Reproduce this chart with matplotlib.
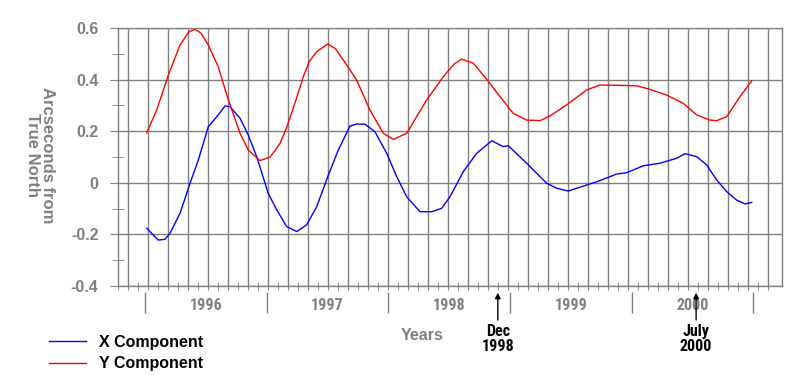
import numpy as np
import matplotlib
matplotlib.use("Agg")
import matplotlib.pyplot as plt
from matplotlib.lines import Line2D

# Values: decimal year / arcseconds
x_years = [1996.014, 1996.109, 1996.164, 1996.205, 1996.288, 1996.370, 1996.438,
           1996.520, 1996.602, 1996.658, 1996.699, 1996.781, 1996.849, 1996.918,
           1997.013, 1997.083, 1997.165, 1997.247, 1997.329, 1997.411, 1997.507,
           1997.589, 1997.685, 1997.740, 1997.808, 1997.890, 1997.987, 1998.069,
           1998.151, 1998.260, 1998.357, 1998.439, 1998.507, 1998.616, 1998.726,
           1998.850, 1998.945, 1998.986, 1999.137, 1999.247, 1999.302, 1999.384,
           1999.479, 1999.575, 1999.713, 1999.877, 1999.959, 2000.096, 2000.233,
           2000.370, 2000.438, 2000.535, 2000.617, 2000.699, 2000.781, 2000.863,
           2000.932, 2000.987]
x_vals = [-0.176, -0.222, -0.219, -0.196, -0.118, -0.002, 0.088,
          0.217, 0.263, 0.298, 0.295, 0.250, 0.185, 0.101,
          -0.041, -0.105, -0.170, -0.189, -0.163, -0.093, 0.030,
          0.127, 0.220, 0.228, 0.227, 0.198, 0.114, 0.024,
          -0.054, -0.112, -0.112, -0.099, -0.054, 0.043, 0.114,
          0.163, 0.140, 0.144, 0.076, 0.024, -0.002, -0.021,
          -0.032, -0.017, 0.004, 0.034, 0.039, 0.066, 0.076,
          0.095, 0.113, 0.101, 0.069, 0.011, -0.034, -0.067,
          -0.082, -0.076]

y_years = [1996.014, 1996.096, 1996.192, 1996.288, 1996.360, 1996.411, 1996.460,
           1996.520, 1996.602, 1996.685, 1996.781, 1996.849, 1996.945, 1997.028,
           1997.069, 1997.110, 1997.165, 1997.247, 1997.301, 1997.350, 1997.411,
           1997.502, 1997.565, 1997.630, 1997.740, 1997.849, 1997.959, 1998.041,
           1998.151, 1998.315, 1998.452, 1998.540, 1998.603, 1998.698, 1998.809,
           1998.918, 1999.027, 1999.137, 1999.247, 1999.329, 1999.466, 1999.631,
           1999.740, 1999.877, 2000.042, 2000.151, 2000.288, 2000.425, 2000.535,
           2000.644, 2000.699, 2000.781, 2000.891, 2000.987]
y_vals = [0.194, 0.282, 0.418, 0.534, 0.585, 0.595, 0.580,
          0.534, 0.450, 0.321, 0.192, 0.127, 0.086, 0.100,
          0.125, 0.153, 0.215, 0.330, 0.411, 0.470, 0.508,
          0.538, 0.520, 0.476, 0.398, 0.282, 0.192, 0.168,
          0.192, 0.321, 0.411, 0.460, 0.479, 0.464, 0.401,
          0.334, 0.269, 0.243, 0.241, 0.259, 0.302, 0.360,
          0.379, 0.378, 0.376, 0.362, 0.340, 0.308, 0.263,
          0.243, 0.241, 0.256, 0.334, 0.395]

year_labels = ["1996", "1997", "1998", "1999", "2000"]
year_starts = [1996, 1997, 1998, 1999, 2000, 2001]
y_ticks = [-0.4, -0.2, 0, 0.2, 0.4, 0.6]
y_ticklabels = ["-0.4", "-0.2", "0", "0.2", "0.4", "0.6"]
event_labels = ["Dec\n1998", "July\n2000"]
event_years = [1998.9, 2000.53]

grey = "#808080"
narrow = ["Liberation Sans Narrow", "Roboto Condensed", "Liberation Sans"]
plt.rcParams["font.family"] = ["Liberation Sans", "DejaVu Sans"]

fig = plt.figure(figsize=(7.94, 3.86), dpi=100)
ax = fig.add_axes([118 / 794, 1 - 286 / 386, 664 / 794, 258 / 386])

ax.plot(x_years, x_vals, color="#0000ff", lw=1.0)
ax.plot(y_years, y_vals, color="#ff0000", lw=1.0)

ax.set_xlim(1995.778, 2001.236)
ax.set_ylim(-0.4, 0.6)

# two-month grid, monthly ticks
step = 20 / 121.66
ax.set_xticks(np.arange(1995.778 + step / 2, 2001.2, step))
ax.set_xticks(np.arange(1995.778, 2001.2, step), minor=True)
ax.tick_params(axis="x", which="major", direction="out", length=3, color=grey,
               labelbottom=False)
ax.tick_params(axis="x", which="minor", direction="inout", length=6, color=grey)

ax.set_yticks(y_ticks)
ax.set_yticklabels(y_ticklabels)
ax.set_yticks(np.arange(-0.3, 0.6, 0.2), minor=True)
ax.tick_params(axis="y", which="major", direction="out", length=6, color=grey,
               labelcolor=grey, labelsize=11.5, pad=8)
ax.tick_params(axis="y", which="minor", direction="inout", length=9, color=grey)
for t in ax.get_yticklabels():
    t.set_fontweight("bold")

ax.grid(True, which="major", color=grey, lw=1.0)
ax.set_axisbelow(True)
for s in ax.spines.values():
    s.set_color(grey)
    s.set_linewidth(1.0)

# year bands under the axis
tr = ax.get_xaxis_transform()
ax.vlines(year_starts, -0.023, -0.105, transform=tr, clip_on=False, color=grey, lw=1.0)
for yr, lab in zip(year_starts, year_labels):
    ax.text(yr + 0.5, -0.074, lab, transform=tr, ha="center", va="center",
            color=grey, fontsize=11.5, fontweight="bold", family=narrow,
            fontstretch="condensed")

for ev, lab in zip(event_years, event_labels):
    ax.annotate(lab, xy=(ev, -0.026), xycoords=tr,
                xytext=(ev, -0.148), textcoords=tr, ha="center", va="top",
                fontsize=11.5, fontweight="bold", family=narrow,
                fontstretch="condensed", linespacing=1.0,
                arrowprops=dict(arrowstyle="-|>", color="black", lw=1.0,
                                mutation_scale=8, shrinkA=1, shrinkB=0,
                                relpos=(0.5, 1.0)))

fig.text(422 / 794, 1 - 335 / 386, "Years", ha="center", va="center",
         color=grey, fontsize=11.5, fontweight="bold")
fig.text(40 / 794, 1 - 155 / 386, "Arcseconds from\nTrue North", rotation=-90,
         ha="center", va="center", multialignment="center", color=grey,
         fontsize=12, fontweight="bold", linespacing=1.05)

handles = [Line2D([], [], color="#0000ff", lw=1.0), Line2D([], [], color="#ff0000", lw=1.0)]
fig.legend(handles, ["X Component", "Y Component"], loc="center left",
           bbox_to_anchor=(49 / 794, 1 - 353 / 386), frameon=False,
           borderpad=0, borderaxespad=0, handlelength=2.3, handletextpad=0.8,
           labelspacing=0.4, prop=dict(size=11.5, weight="bold"))

fig.savefig("out.png", dpi=100)
